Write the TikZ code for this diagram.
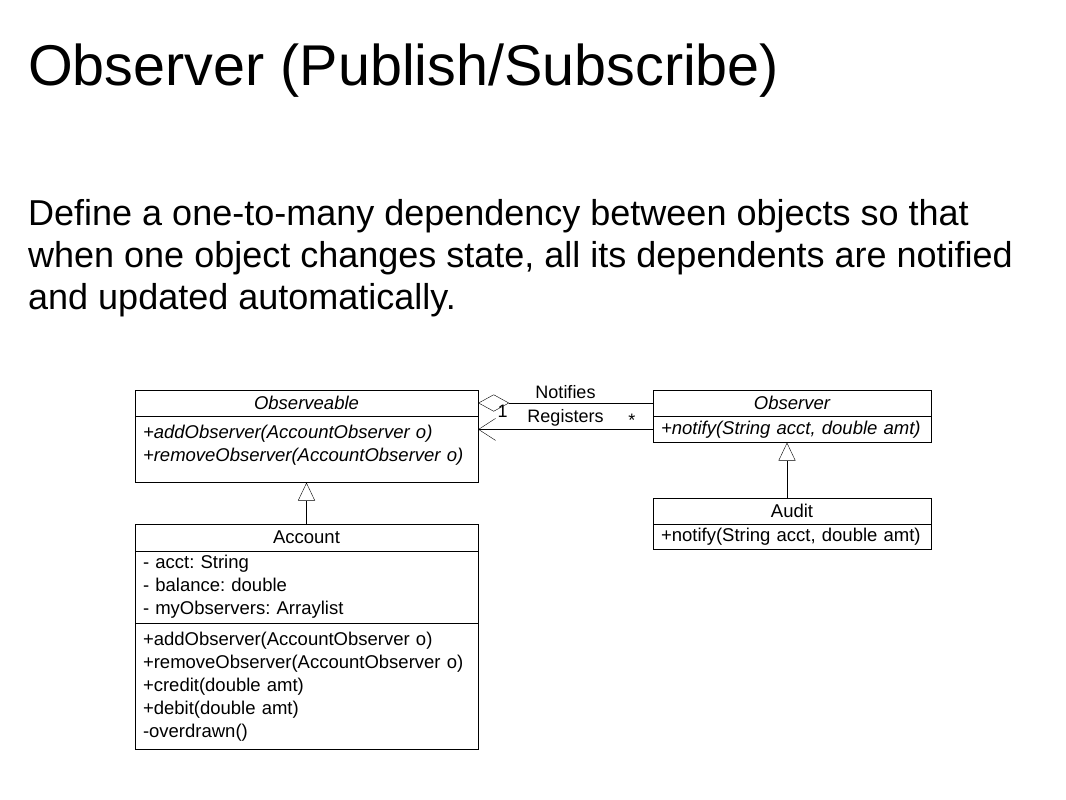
\documentclass[tikz,border=0pt]{standalone}
\usepackage{fontspec}
\setmainfont{Liberation Sans}
\usetikzlibrary{positioning, arrows.meta}
\frenchspacing

\begin{document}
\begin{tikzpicture}[x=1pt, y=1pt, node distance=0pt,
        txt/.style={inner sep=0pt, anchor=base west, align=left},
        classhead/.style={draw, inner sep=0pt, minimum height=26pt, font=\fontsize{18.5}{20}\selectfont},
        classpart/.style={draw, inner xsep=8pt, inner ysep=0pt, align=left, font=\fontsize{18.5}{23}\selectfont},
        assoclabel/.style={font=\fontsize{18}{20}\selectfont, inner sep=1pt},
        inherit/.style={-{Triangle[open, length=18pt, width=17pt]}}]
        \useasboundingbox (0,0) rectangle (1066,-800);
        % heading and text
        \node[txt, font=\fontsize{57.5}{68}\selectfont] (title) at (28,-85) {Observer (Publish/Subscribe)};
        \node[txt, font=\fontsize{36}{42}\selectfont] (intro) at (28,-309)
          {Define a one-to-many dependency between objects so that\\
           when one object changes state, all its dependents are notified\\
           and updated automatically.};
        % classes
        \node[classhead, minimum width=343pt] (obshead) at (306.5,-403) {\itshape Observeable};
        \node[classpart, below=of obshead, text width=327pt, minimum height=66pt, text depth=36pt] (obsops)
          {\itshape +addObserver(AccountObserver o)\\ \itshape +removeObserver(AccountObserver o)};
        \node[classhead, minimum width=343pt, minimum height=27pt, below=41pt of obsops] (acchead) {Account};
        \node[classpart, below=of acchead, text width=327pt, minimum height=72pt] (accattr)
          {- acct: String\\ - balance: double\\ - myObservers: Arraylist};
        \node[classpart, below=of accattr, text width=327pt, minimum height=126pt] (accops)
          {+addObserver(AccountObserver o)\\ +removeObserver(AccountObserver o)\\ +credit(double amt)\\
           +debit(double amt)\\ -overdrawn()};
        \node[classhead, minimum width=278pt] (obsvhead) at (792,-403) {\itshape Observer};
        \node[classpart, below=of obsvhead, text width=262pt, minimum height=26pt] (obsvops)
          {\itshape +notify(String acct, double amt)};
        \node[classhead, minimum width=278pt, below=55pt of obsvops] (audithead) {Audit};
        \node[classpart, below=of audithead, text width=262pt, minimum height=25pt] (auditops)
          {+notify(String acct, double amt)};
        % connectors
        \draw[-{Diamond[open, length=31pt, width=17pt]}] (obsvhead.west) -- (obshead.east)
          node[assoclabel, midway, above=3pt] {Notifies}
          node[assoclabel, pos=0.86, below=1pt] {1};
        \draw[-{Straight Barb[length=17pt, width=22pt]}] (obsvops.west) -- (obsvops.west -| obsops.east)
          node[assoclabel, midway, above=2pt] {Registers}
          node[assoclabel, pos=0.12, above=2pt] {*};
        \draw[inherit] (acchead.north) -- (obsops.south);
        \draw[inherit] ([xshift=-5pt]audithead.north) -- ([xshift=-5pt]obsvops.south);
\end{tikzpicture}
\end{document}
